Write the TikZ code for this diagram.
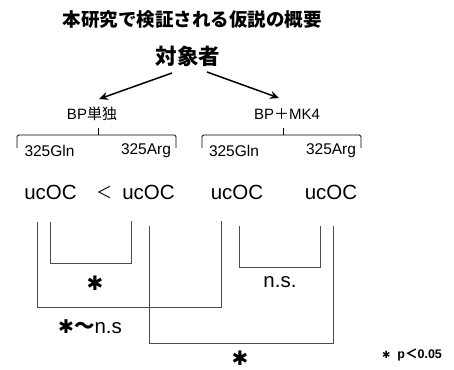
\documentclass[tikz,border=0pt]{standalone}
\usepackage{fontspec}
\setmainfont{Liberation Sans}
\newfontfamily\jp{Noto Sans CJK JP}
\newfontfamily\dvsans{DejaVu Sans}
\usetikzlibrary{arrows.meta}
\begin{document}
\begin{tikzpicture}[x=1pt,y=-1pt,
  txt/.style={inner sep=0pt, anchor=center},
  arr/.style={-{Stealth[length=9pt,width=8pt,inset=3pt]}, line width=1.5pt},
  brk/.style={line width=0.8pt, rounded corners=1.5pt},
  cmp/.style={line width=0.6pt, draw=black!70},
  lat/.style={txt, font=\fontsize{15.5}{17}\selectfont},
  uc/.style={txt, font=\fontsize{20.5}{22}\selectfont},
  star/.style={txt, font=\dvsans\fontsize{20}{22}\selectfont}]
\useasboundingbox (0,0) rectangle (454,369);
% titles
\node[txt, font=\jp\bfseries\fontsize{18.5}{20}\selectfont] (title) at (192,20) {本研究で検証される仮説の概要};
\node[txt, font=\jp\bfseries\fontsize{21.5}{24}\selectfont] (subj) at (188,56) {対象者};
\node[txt, font=\fontsize{15}{16}\selectfont] (bp) at (92,114) {BP{\jp 単独}};
\node[txt, font=\fontsize{15}{16}\selectfont] (bpmk) at (287,114) {BP{\jp ＋}MK4};
\coordinate (s1) at (172,73);
\coordinate (s2) at (207,72);
\coordinate (e1) at (99,99);
\coordinate (e2) at (279,98);
\draw[arr] (s1) -- (e1);
\draw[arr] (s2) -- (e2);
% brackets
\coordinate (b1) at (98,128);
\coordinate (b2) at (283,128);
\draw[brk] (17,148) -- (17,135) -- (176,135) -- (176,148);
\draw[brk] (b1) -- (98,135);
\draw[brk] (202,148) -- (202,135) -- (361,135) -- (361,148);
\draw[brk] (b2) -- (283,135);
% genotype labels
\node[lat] (g1) at (49.5,151) {325Gln};
\node[lat] (a1) at (146,151) {325Arg};
\node[lat] (g2) at (234,151) {325Gln};
\node[lat] (a2) at (331,151) {325Arg};
% ucOC
\node[uc] (u1) at (50.5,192) {ucOC};
\node[txt, font=\jp\fontsize{16}{18}\selectfont] (lt) at (104,192) {＜};
\node[uc] (u2) at (148.5,192) {ucOC};
\node[uc] (u3) at (237,192) {ucOC};
\node[uc] (u4) at (331,192) {ucOC};
% comparison lines
\coordinate (p1) at (37,222);
\coordinate (p2) at (50,222);
\coordinate (p3) at (131,221);
\coordinate (p4) at (149,226);
\coordinate (p5) at (221,221);
\coordinate (p6) at (239,226);
\coordinate (p7) at (320,226);
\coordinate (p8) at (333,226);
\draw[cmp] (p2) |- (131,263) -- (p3);
\draw[cmp] (p6) |- (320,267) -- (p7);
\draw[cmp] (p1) |- (221,307) -- (p5);
\draw[cmp] (p4) |- (333,343) -- (p8);
% result labels
\node[star] (r1) at (95,283) {✱};
\node[uc] (r2) at (280,282) {n.s.};
\node[txt, font=\fontsize{20.5}{22}\selectfont] (r3) at (90,327) {{\dvsans\fontsize{19}{21}\selectfont ✱}{\jp\bfseries ～}n.s};
\node[star] (r4) at (240,358) {✱};
\node[txt, font=\fontsize{12.5}{14}\selectfont\bfseries] (note) at (412,355) {{\dvsans\fontsize{10}{12}\selectfont ✱}\hspace{7pt}p{\jp ＜}0.05};
\end{tikzpicture}
\end{document}
